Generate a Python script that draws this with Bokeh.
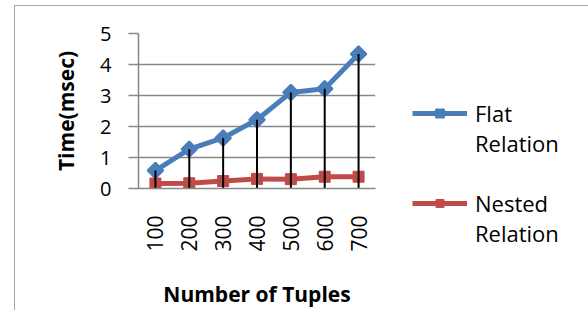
import math
from bokeh.plotting import figure
from bokeh.models import FactorRange, Range1d, Legend, LegendItem, FixedTicker
from bokeh.embed import file_html
from bokeh.resources import INLINE

categories = ["100", "200", "300", "400", "500", "600", "700"]
flat = [0.58, 1.27, 1.63, 2.22, 3.10, 3.22, 4.34]
nested = [0.16, 0.17, 0.24, 0.31, 0.30, 0.38, 0.38]
y_ticks = [0, 1, 2, 3, 4, 5]
series_labels = ["Flat\nRelation", "Nested\nRelation"]

FONT = "Open Sans"
GRID = "#878787"
BLUE = "#4A7EBB"
RED = "#BE4B48"
BORDER = "#A6A6A6"

p = figure(x_range=FactorRange(*categories), y_range=Range1d(0, 5),
           output_backend="svg", toolbar_location=None,
           frame_width=237, frame_height=155,
           min_border_left=138, min_border_top=33, min_border_right=213, min_border_bottom=121)
# chart-area border (top and left edges) drawn as page background behind a transparent canvas
p.border_fill_color = None
p.styles = {
    "background-color": "white",
    "background-image": f"linear-gradient({BORDER},{BORDER}), linear-gradient({BORDER},{BORDER})",
    "background-size": "600px 1px, 1px 400px",
    "background-position": "14px 5px, 14px 5px",
    "background-repeat": "no-repeat",
}
p.outline_line_color = None
p.xgrid.grid_line_color = None
p.ygrid.grid_line_color = GRID
p.ygrid.grid_line_width = 1.5

p.yaxis.ticker = FixedTicker(ticks=y_ticks)
p.yaxis.axis_line_color = GRID
p.yaxis.axis_line_width = 1.5
p.yaxis.major_tick_line_color = GRID
p.yaxis.major_tick_line_width = 1.5
p.yaxis.major_tick_out = 10
p.yaxis.major_tick_in = 0
p.yaxis.minor_tick_line_color = None
p.yaxis.major_label_text_font = FONT
p.yaxis.major_label_text_font_size = "20px"
p.yaxis.major_label_text_color = "#000000"
p.yaxis.major_label_standoff = 17
p.yaxis.axis_label = "Time(msec)"
p.yaxis.axis_label_text_font = FONT
p.yaxis.axis_label_text_font_size = "21px"
p.yaxis.axis_label_text_font_style = "bold"
p.yaxis.axis_label_text_color = "#000000"
p.yaxis.axis_label_standoff = 17

p.xaxis.axis_line_color = GRID
p.xaxis.axis_line_width = 1.5
p.xaxis.major_tick_line_color = None
p.xaxis.major_label_orientation = math.pi / 2
p.xaxis.major_label_text_font = FONT
p.xaxis.major_label_text_font_size = "21px"
p.xaxis.major_label_text_color = "#000000"
p.xaxis.major_label_standoff = 21
p.xaxis.axis_label = "Number of Tuples"
p.xaxis.axis_label_text_font = FONT
p.xaxis.axis_label_text_font_size = "21px"
p.xaxis.axis_label_text_font_style = "bold"
p.xaxis.axis_label_text_color = "#000000"
p.xaxis.axis_label_standoff = 25

l1 = p.line(categories, flat, line_color=BLUE, line_width=5)
m1 = p.scatter(categories, flat, marker="square", angle=math.pi / 4, size=11,
               fill_color=BLUE, line_color=BLUE, line_width=2)
l2 = p.line(categories, nested, line_color=RED, line_width=5)
m2 = p.scatter(categories, nested, marker="square", size=11, fill_color=RED, line_color=RED)

# drop lines
p.segment(x0=categories, y0=[0] * len(categories), x1=categories, y1=flat,
          line_color="#000000", line_width=2)

# a leading blank line keeps each legend glyph level with the first text line
legend = Legend(items=[LegendItem(label="\n" + series_labels[0], renderers=[l1, m1]),
                       LegendItem(label="\n" + series_labels[1], renderers=[l2, m2])],
                location=(37, -60), border_line_color=None, background_fill_alpha=0,
                label_text_font=FONT, label_text_font_size="22px", label_text_color="#000000",
                glyph_width=55, spacing=0, label_standoff=8, padding=0, margin=0)
p.add_layout(legend, "right")

open("out.html", "w").write(file_html(p, INLINE))
